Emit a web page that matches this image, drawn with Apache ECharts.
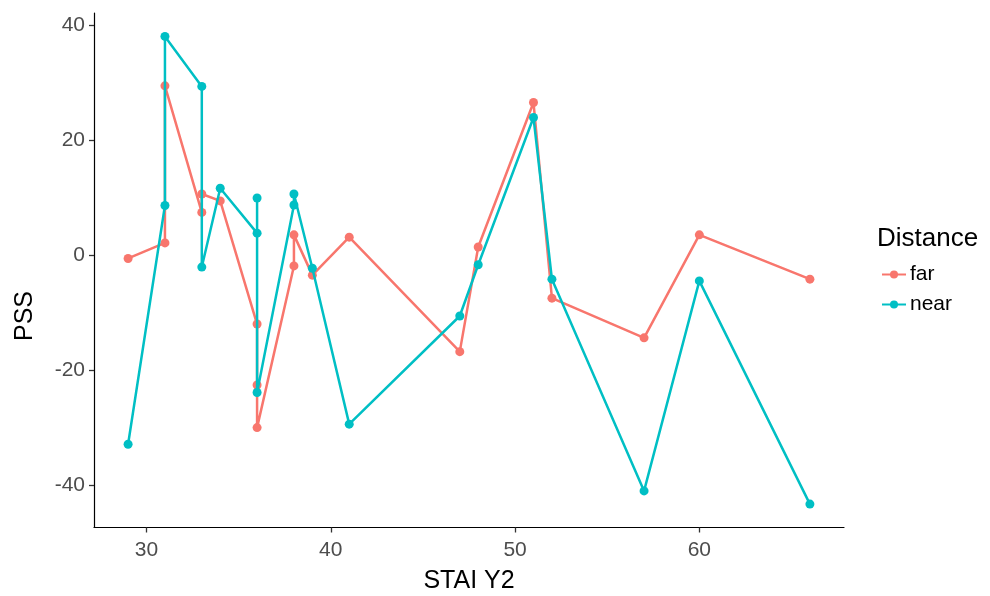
<!DOCTYPE html>
<html>
<head>
<meta charset="utf-8">
<script src="https://cdn.jsdelivr.net/npm/echarts@6/dist/echarts.min.js"></script>
<style>
  html, body { margin: 0; padding: 0; background: #fff; }
  #chart { width: 990px; height: 596px; }
</style>
</head>
<body>
<div id="chart"></div>
<script>
// STAI Y2 score (x) against PSS (y), one path per distance condition
const farX  = [29, 31, 31, 33, 33, 34, 36, 36, 36, 38, 38, 39, 41, 47, 48, 51, 52, 57, 60, 66];
const farY  = [-0.6, 2.1, 29.4, 7.4, 10.6, 9.4, -12.0, -22.6, -30.0, -1.9, 3.5, -3.5, 3.1, -16.8, 1.4, 26.5, -7.5, -14.4, 3.5, -4.2];
const nearX = [29, 31, 31, 33, 33, 34, 36, 36, 36, 38, 38, 39, 41, 47, 48, 51, 52, 57, 60, 66];
const nearY = [-32.9, 8.6, 38.0, 29.3, -2.1, 11.6, 3.8, 9.9, -23.9, 8.7, 10.6, -2.3, -29.4, -10.6, -1.7, 23.9, -4.2, -41.0, -4.5, -43.3];

const xTicks = [30, 40, 50, 60];
const yTicks = [-40, -20, 0, 20, 40];

const FONT = '"Liberation Sans", Arial, sans-serif';
const FAR_COLOR = '#F8766D';
const NEAR_COLOR = '#00BFC4';

function pairs(xs, ys) { return xs.map((x, i) => [x, ys[i]]); }

// axis range padded by 5% of the data span on each side
const allX = farX.concat(nearX), allY = farY.concat(nearY);
const xMin0 = Math.min(...allX), xMax0 = Math.max(...allX);
const yMin0 = Math.min(...allY), yMax0 = Math.max(...allY);
const xPad = (xMax0 - xMin0) * 0.05, yPad = (yMax0 - yMin0) * 0.05;

const chart = echarts.init(document.getElementById('chart'));

const axisLine = { show: true, onZero: false, lineStyle: { color: '#000', width: 1.2 } };
const tickStyle = { color: '#333', width: 1.3 };
const labelStyle = { color: '#4d4d4d', fontSize: 21, fontFamily: FONT };

chart.setOption({
  animation: false,
  backgroundColor: '#fff',
  grid: { left: 94, top: 13, width: 750, height: 514.5, containLabel: false, outerBoundsMode: 'none' },
  xAxis: {
    type: 'value',
    min: xMin0 - xPad,
    max: xMax0 + xPad,
    name: 'STAI Y2',
    nameLocation: 'middle',
    nameGap: 41,
    nameTextStyle: { color: '#000', fontSize: 25, fontFamily: FONT },
    axisLine: axisLine,
    splitLine: { show: false },
    axisTick: { show: true, length: 5, lineStyle: tickStyle, customValues: xTicks },
    axisLabel: Object.assign({}, labelStyle, { margin: 12, customValues: xTicks, formatter: v => String(v) })
  },
  yAxis: {
    type: 'value',
    min: yMin0 - yPad,
    max: yMax0 + yPad,
    axisLine: axisLine,
    splitLine: { show: false },
    axisTick: { show: true, length: 5, lineStyle: tickStyle, customValues: yTicks },
    axisLabel: Object.assign({}, labelStyle, { margin: 9, customValues: yTicks, formatter: v => String(v) })
  },
  legend: {
    orient: 'vertical',
    left: 876,
    top: 259,
    itemWidth: 24,
    itemHeight: 10,
    itemGap: 9,
    textStyle: { color: '#000', fontSize: 21, fontFamily: FONT, padding: [0, 0, 0, -1] },
    data: ['far', 'near']
  },
  graphic: [
    {
      type: 'text',
      left: 877,
      top: 226,
      style: { text: 'Distance', fill: '#000', font: '26px ' + FONT }
    },
    {
      type: 'text',
      x: 25,
      y: 316,
      rotation: Math.PI / 2,
      style: { text: 'PSS', fill: '#000', font: '25px ' + FONT, align: 'center', verticalAlign: 'middle' }
    }
  ],
  series: [
    {
      name: 'far',
      type: 'line',
      data: pairs(farX, farY),
      color: FAR_COLOR,
      symbol: 'circle',
      symbolSize: 9,
      showSymbol: true,
      lineStyle: { width: 2.5, color: FAR_COLOR },
      itemStyle: { color: FAR_COLOR },
      z: 2
    },
    {
      name: 'near',
      type: 'line',
      data: pairs(nearX, nearY),
      color: NEAR_COLOR,
      symbol: 'circle',
      symbolSize: 9,
      showSymbol: true,
      lineStyle: { width: 2.5, color: NEAR_COLOR },
      itemStyle: { color: NEAR_COLOR },
      z: 3
    }
  ]
});
</script>
</body>
</html>
